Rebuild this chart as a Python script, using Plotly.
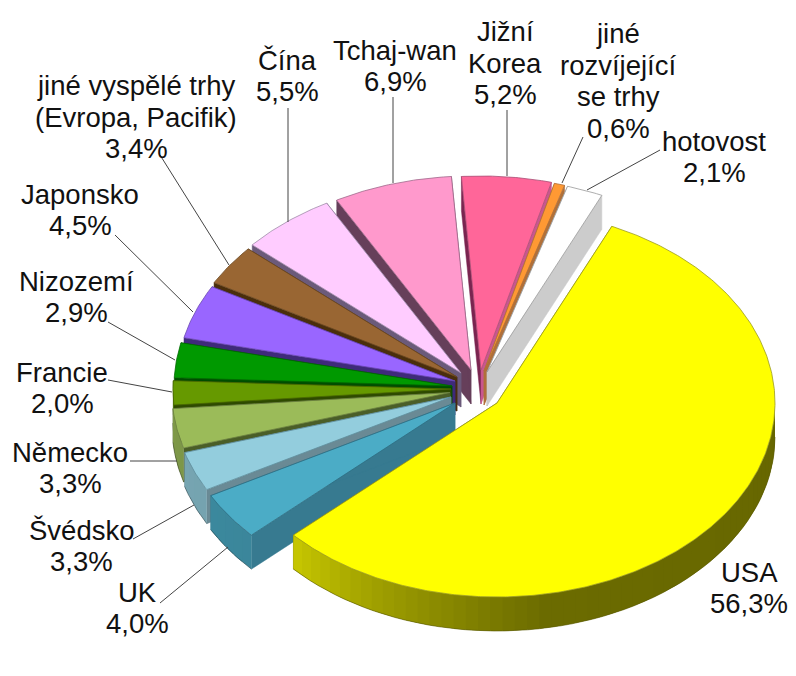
import numpy as np
import plotly.graph_objects as go

categories = ["USA", "UK", "Švédsko", "Německo", "Francie", "Nizozemí", "Japonsko",
              "jiné vyspělé trhy (Evropa, Pacifik)", "Čína", "Tchaj-wan", "Jižní Korea",
              "jiné rozvíjející se trhy", "hotovost"]
values = [56.3, 4.0, 3.3, 3.3, 2.0, 2.9, 4.5, 3.4, 5.5, 6.9, 5.2, 0.6, 2.1]
label_lines = [["USA", "56,3%"], ["UK", "4,0%"], ["Švédsko", "3,3%"], ["Německo", "3,3%"], ["Francie", "2,0%"],
               ["Nizozemí", "2,9%"], ["Japonsko", "4,5%"], ["jiné vyspělé trhy", "(Evropa, Pacifik)", "3,4%"],
               ["Čína", "5,5%"], ["Tchaj-wan", "6,9%"], ["Jižní", "Korea", "5,2%"],
               ["jiné", "rozvíjející", "se trhy", "0,6%"], ["hotovost", "2,1%"]]
colors = ["#FFFF00", "#4BACC6", "#93CDDD", "#9BBB59", "#669900", "#009900", "#9966FF",
          "#996633", "#FFCCFF", "#FF99CC", "#FF6699", "#FF9933", "#FFFFFF"]
start_wall = ["#8A8A00", "#377A90", "#6A8A95", "#4A5E28", "#2E4A00", "#004D00", "#3F2A7A",
              "#4A2E0C", "#6B5A7A", "#663F5A", "#7A2550", "#B0703A", "#999999"]
end_wall = ["#666600", "#377A90", "#6A8A95", "#4A5E28", "#2E4A00", "#004D00", "#3F2A7A",
            "#4A2E0C", "#6B5A7A", "#663F5A", "#C8578F", "#B0703A", "#CCCCCC"]
outlines = ["#9A9A20", "#2F6C80", "#5F8E9C", "#6B8040", "#4A6A00", "#006A00", "#6A48B0",
            "#6A4722", "#A08AA8", "#A06A8C", "#A84C74", "#B0703A", "#999999"]
# exploded slice centres, one per slice (pixel frame of the hidden axes)
centres = [(497, 403), (455, 403), (451, 397), (450, 392.5), (451, 389), (452, 386), (455, 381),
           (457, 377), (461, 373), (471, 370), (481, 370), (484, 371), (487, 372)]
label_xy = [(749, 588), (137, 608), (81, 546), (70, 468), (62, 388), (76, 297), (80, 210),
            (136, 117), (287, 76), (395, 66), (505, 63), (618, 81), (714, 157)]
leaders = [[(160, 603), (228, 547)], [(133, 539), (194, 505)], [(130, 461), (177, 461)],
           [(108, 380), (172, 392)], [(108, 322), (175, 360)], [(115, 235), (193, 312)],
           [(160, 155), (229, 265)], [(288, 108), (288, 222)], [(393, 97), (393, 183)],
           [(507, 110), (507, 176)], [(583, 137), (562, 183)], [(660, 150), (587, 190)]]
rotation = 24.4
RX, RY, DEPTH = 278, 194, 34
W, H = 796, 676
FONT = dict(family="Liberation Sans", size=27.5, color="#111111")
LINE_STEP = 31.6


def rim(c, deg, dz=0.0):
    t = np.radians(deg)
    return c[0] + RX * np.sin(t), c[1] - RY * np.cos(t) + dz


def shade(hexcol, f):
    r, g, b = (int(hexcol[i:i + 2], 16) for i in (1, 3, 5))
    return f"rgb({r * f:.0f},{g * f:.0f},{b * f:.0f})"


def rim_factor(a):
    return float(np.interp(a, [90, 170, 185, 205, 227, 270], [0.40, 0.42, 0.50, 0.62, 0.78, 0.82]))


def poly(xs, ys, fill, line, width=0.6, name=None):
    return go.Scatter(x=list(xs), y=list(ys), mode="lines", fill="toself", fillcolor=fill,
                      line=dict(color=line, width=width), showlegend=False,
                      hoverinfo="text" if name else "skip", text=name, name=name or "")


fracs = np.array(values) / sum(values) * 360
starts = rotation + np.concatenate([[0], np.cumsum(fracs)[:-1]])
ends = starts + fracs
mid = (starts + ends) / 2
# back to front: slices nearest the top first, the largest slice last
order = sorted(range(1, len(values)), key=lambda i: -abs(((mid[i] % 360)) - 180)) + [0]

fig = go.Figure()
for i in order:
    c, a0, a1 = centres[i], starts[i], ends[i]
    for deg, col in ((a0, start_wall[i]), (a1, end_wall[i])):
        x, y = rim(c, deg)
        x2, y2 = rim(c, deg, DEPTH)
        fig.add_trace(poly([c[0], x, x2, c[0], c[0]], [c[1], y, y2, c[1] + DEPTH, c[1]], col, col, 0.5))
    lo, hi = max(a0, 90), min(a1, 270)
    if hi > lo:
        # rim wall as abutting bands painted from the far end, each running on under the next
        edges = np.linspace(lo, hi, max(2, int((hi - lo) / 2.5) + 1))
        for e0, e1 in zip(edges[:-1], edges[1:]):
            col = shade(colors[i], rim_factor((e0 + e1) / 2))
            arc = np.linspace(e0, min(e1 + 2.5, hi), 8)
            tx, ty = rim(c, arc)
            bx, by = rim(c, arc[::-1], DEPTH)
            fig.add_trace(poly(np.r_[tx, bx, tx[0]], np.r_[ty, by, ty[0]], col, "rgba(0,0,0,0)", 0))
        arc = np.linspace(lo, hi, 60)
        bx, by = rim(c, arc, DEPTH)
        fig.add_trace(go.Scatter(x=bx, y=by, mode="lines", line=dict(color=shade(colors[i], 0.35), width=0.6),
                                 showlegend=False, hoverinfo="skip"))
    arc = np.linspace(a0, a1, max(3, int(a1 - a0) * 2))
    ax, ay = rim(c, arc)
    fig.add_trace(poly(np.r_[c[0], ax, c[0]], np.r_[c[1], ay, c[1]], colors[i], outlines[i], 0.8,
                       name=f"{categories[i]}: {values[i]:.1f}%".replace(".", ",")))

for seg in leaders:
    fig.add_shape(type="line", x0=seg[0][0], y0=seg[0][1], x1=seg[1][0], y1=seg[1][1],
                  line=dict(color="#444444", width=1))
for lines, (x, y) in zip(label_lines, label_xy):
    for k, t in enumerate(lines):
        fig.add_annotation(x=x, y=y + (k - (len(lines) - 1) / 2) * LINE_STEP, text=t, showarrow=False,
                           xanchor="center", yanchor="middle", font=FONT)

fig.update_xaxes(range=[0, W], visible=False, fixedrange=True)
fig.update_yaxes(range=[H, 0], visible=False, fixedrange=True)
fig.update_layout(width=W, height=H, margin=dict(l=0, r=0, t=0, b=0), paper_bgcolor="white",
                  plot_bgcolor="white")
fig.write_html("out.html", config=dict(displayModeBar=False),
               post_script="document.body.style.margin='0';")
